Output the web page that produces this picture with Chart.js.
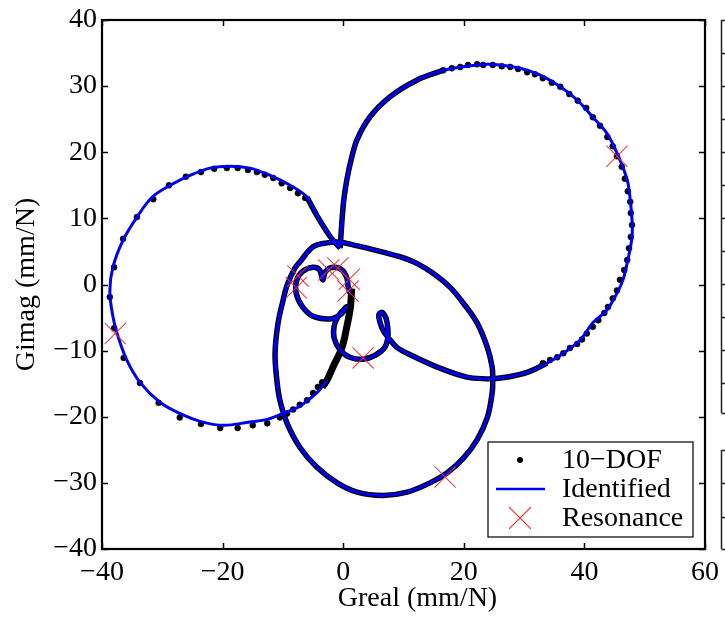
<!DOCTYPE html>
<html>
<head>
<meta charset="utf-8">
<script src="https://cdn.jsdelivr.net/npm/chart.js@4.4.1/dist/chart.umd.min.js"></script>
<style>
  html, body { margin: 0; padding: 0; background: #fff; }
</style>
</head>
<body>
<canvas id="nyq" width="725" height="619"></canvas>
<script>
// axis ticks
const xTicks = [-40, -20, 0, 20, 40, 60];
const yTicks = [-40, -30, -20, -10, 0, 10, 20, 30, 40];

// identified model
const leftLoopX = [-2.7, -4.4, -7.2, -10.0, -12.6, -15.5, -19.9, -23.7, -27.1, -30.4, -33.7, -35.9, -37.5, -38.3, -38.7, -38.2, -36.5, -34.2, -31.7, -28.7, -25.4, -22.1, -18.8, -15.5, -12.1, -8.8, -6.0, -4.4, -2.2, -0.5];
const leftLoopY = [-14.5, -16.4, -18.4, -19.5, -20.4, -20.8, -21.3, -20.7, -19.5, -17.8, -14.8, -11.4, -7.4, -4.3, -0.9, 2.6, 6.7, 10.2, 13.2, 15.0, 16.5, 17.6, 17.9, 17.6, 16.5, 15.0, 13.2, 10.5, 7.3, 5.5];

const rightLoopX = [-0.5, -0.4, -0.2, 0.1, 0.6, 1.3, 2.3, 4.4, 7.8, 12.2, 16.6, 20.5, 23.9, 26.0, 29.3, 32.6, 36.0, 38.8, 41.4, 43.7, 45.4, 47.1, 47.6, 47.9, 47.9, 47.2, 46.4, 45.4, 43.7, 41.4, 39.3, 36.5, 33.8, 30.5, 27.2, 24.3];
const rightLoopY = [5.5, 7.0, 9.7, 12.8, 15.8, 18.8, 21.9, 25.3, 28.4, 30.9, 32.4, 33.0, 33.3, 33.2, 32.7, 31.7, 29.9, 27.9, 25.3, 22.9, 19.9, 15.8, 12.8, 9.7, 7.2, 3.7, 0.7, -1.3, -3.9, -5.8, -8.4, -10.4, -11.9, -13.3, -14.0, -14.3];

const hookX = [24.3, 20.5, 15.6, 10.6, 8.9, 7.8, 6.6, 6.1, 5.9, 6.4, 7.1, 7.4, 7.4, 6.9, 5.3, 3.3, 1.1, -0.5, -1.5, -1.5, -0.9, 0.0, 0.5, 0.1, -0.5, -2.2, -5.0, -6.8, -7.8, -7.7, -6.7, -5.0, -3.9, -3.4, -2.9, -1.7, -0.2, 0.6, 0.8, 1.1];
const hookY = [-14.3, -14.0, -12.5, -10.4, -9.5, -8.4, -6.9, -5.7, -4.6, -4.2, -5.1, -6.6, -8.0, -9.5, -10.7, -11.3, -11.0, -9.9, -8.1, -6.3, -4.9, -3.9, -3.4, -4.0, -4.6, -5.2, -4.8, -3.3, -1.3, 0.7, 2.0, 2.6, 2.2, 0.7, 2.0, 2.6, 2.2, 1.0, -0.2, -1.3];

const bottomLoopX = [-7.2, -5.0, -2.7, -0.5, 1.6, 4.0, 6.6, 9.4, 12.2, 14.9, 17.7, 19.9, 22.2, 23.9, 24.7, 24.8, 24.7, 23.9, 22.2, 19.9, 17.2, 14.4, 10.6, 6.6, 2.3, -1.0, -4.4, -7.2, -9.3, -10.5, -11.0, -11.3, -10.8, -10.0, -9.3, -8.0, -7.2];
const bottomLoopY = [3.4, 5.7, 6.3, 6.4, 6.0, 5.5, 4.9, 4.2, 3.2, 1.7, -0.4, -2.8, -5.8, -9.5, -12.5, -14.5, -16.4, -20.1, -23.5, -26.3, -28.5, -30.0, -31.4, -31.9, -31.4, -30.0, -27.6, -24.6, -21.0, -17.5, -14.5, -10.4, -5.8, -2.5, -0.1, 2.5, 3.4];

// where the 10-DOF samples are so dense they read as a solid black stroke
const tailX = [1.4, 1.2, 0.6, -0.2, -1.7, -2.7, -3.5];
const tailY = [-0.6, -3.4, -6.4, -9.5, -12.5, -14.5, -15.5];

// 10-DOF samples that can be told apart
const dofX = [-36.4, -38.0, -38.7, -38.0, -36.5, -34.2, -31.5, -28.9, -26.1, -23.6, -21.4, -19.3, -17.5, -15.8, -14.3, -13.0, -11.6, -10.2, -8.8, -7.5, -6.3,
  -33.7, -30.6, -27.1, -23.6, -20.4, -17.5, -15.0, -12.6, -10.5, -9.3, -8.3, -7.2, -6.0, -5.0, -4.2, -3.5,
  16.6, 18.0, 19.4, 20.7, 22.2, 23.2, 24.8, 26.3, 27.7, 29.0, 30.5, 31.8, 33.1, 34.6, 36.0, 37.5, 38.9, 40.3, 41.4, 42.6, 43.8, 44.7, 45.4, 46.2, 46.7, 47.2,
  47.6, 47.7, 47.9, 47.7, 47.4, 47.1, 46.6, 45.9, 45.4, 44.7, 43.9, 43.3, 42.3, 41.4, 40.4, 39.6, 38.8, 37.6, 36.5, 35.5, 34.3, 33.1];
const dofY = [-11.1, -6.6, -1.9, 2.6, 6.9, 10.2, 12.9, 15.0, 16.3, 17.0, 17.5, 17.6, 17.6, 17.3, 17.0, 16.6, 16.1, 15.3, 14.6, 13.8, 13.1,
  -14.9, -17.9, -20.1, -21.1, -21.7, -21.7, -21.3, -21.0, -20.1, -19.5, -18.9, -18.2, -17.5, -16.4, -15.5, -14.8,
  32.4, 32.7, 32.9, 33.2, 33.3, 33.2, 33.2, 33.0, 32.9, 32.6, 32.1, 31.8, 31.2, 30.5, 29.9, 28.8, 27.8, 26.7, 25.3, 24.0, 22.3, 20.9, 19.4, 17.8, 16.0, 14.1,
  12.5, 10.8, 9.0, 7.2, 5.5, 3.7, 2.2, 0.7, -0.9, -2.1, -3.4, -4.3, -5.4, -6.4, -7.4, -8.3, -9.0, -9.6, -10.4, -11.0, -11.4, -11.9];

// resonance markers
const resX = [-37.8, 45.4, 16.9, 3.3, -7.5, -7.8, -2.4, -0.9, 1.0, 0.8];
const resY = [-7.4, 19.4, -29.1, -11.1, 1.3, -0.5, 2.2, 2.5, 0.8, -1.0];

// edge of the neighbouring panel that is cut off at the right border (pixel rows)
const sideRowsTop = [20, 53, 86, 119, 152, 185, 218, 251, 284, 317, 350, 383, 413];
const sideRowsBottom = [450, 483, 517, 549];

const pts = (xs, ys) => xs.map((x, i) => ({ x: x, y: ys[i] }));

const BLUE = '#0000f0';
const RED = 'rgba(232, 48, 48, 0.9)';
const SERIF = "'Liberation Serif', 'Times New Roman', serif";

function blueLine(data) {
  return { data: data, showLine: true, borderColor: BLUE, borderWidth: 3, pointRadius: 0, tension: 0.35, order: 1 };
}
function denseLine(data) {
  return { data: data, showLine: true, borderColor: '#000', borderWidth: 5.5, pointRadius: 0, tension: 0.35, order: 3 };
}

const datasets = [
  { label: 'Resonance', data: pts(resX, resY), pointStyle: 'crossRot', pointRadius: 15, borderColor: RED, borderWidth: 1.1, showLine: false, order: 0 },
  blueLine(pts(leftLoopX, leftLoopY)),
  blueLine(pts(rightLoopX, rightLoopY)),
  blueLine(pts(hookX, hookY)),
  blueLine(pts(bottomLoopX, bottomLoopY)),
  { label: '10-DOF', data: pts(dofX, dofY), pointRadius: 3, backgroundColor: '#000', borderColor: '#000', borderWidth: 0.5, showLine: false, order: 2 },
  denseLine(pts(leftLoopX, leftLoopY).slice(-4)),
  denseLine(pts(rightLoopX, rightLoopY).slice(0, 11)),
  denseLine(pts(rightLoopX, rightLoopY).slice(32)),
  denseLine(pts(hookX, hookY)),
  denseLine(pts(bottomLoopX, bottomLoopY)),
  { data: pts(tailX, tailY), showLine: true, borderColor: '#000', borderWidth: 7, pointRadius: 0, tension: 0.35, order: 3 }
];

// box, inward ticks on all four sides, legend and the clipped neighbour panel
const frame = {
  id: 'frame',
  afterDraw(chart) {
    const { ctx, chartArea: a, scales, width } = chart;
    const x = scales.x, y = scales.y;
    ctx.save();
    ctx.strokeStyle = '#000';
    ctx.lineWidth = 1.5;
    x.ticks.forEach(t => {
      const p = Math.round(x.getPixelForValue(t.value)) + 0.5;
      ctx.beginPath();
      ctx.moveTo(p, a.bottom); ctx.lineTo(p, a.bottom - 6);
      ctx.moveTo(p, a.top); ctx.lineTo(p, a.top + 6);
      ctx.stroke();
    });
    y.ticks.forEach(t => {
      const p = Math.round(y.getPixelForValue(t.value)) + 0.5;
      ctx.beginPath();
      ctx.moveTo(a.left, p); ctx.lineTo(a.left + 6, p);
      ctx.moveTo(a.right, p); ctx.lineTo(a.right - 6, p);
      ctx.stroke();
    });
    ctx.lineWidth = 2.2;
    ctx.strokeRect(a.left, a.top, a.right - a.left, a.bottom - a.top);

    // neighbour panel fragments
    ctx.strokeStyle = '#222';
    ctx.lineWidth = 1.5;
    const sx = 721.5;
    [sideRowsTop, sideRowsBottom].forEach(rows => {
      ctx.beginPath();
      ctx.moveTo(sx, rows[0]); ctx.lineTo(sx, rows[rows.length - 1]);
      rows.forEach(r => { ctx.moveTo(sx, r + 0.5); ctx.lineTo(width, r + 0.5); });
      ctx.stroke();
    });

    // legend
    const bw = 205, bh = 95;
    const bx = a.right - 12 - bw, by = a.bottom - 12 - bh;
    ctx.fillStyle = '#fff';
    ctx.fillRect(bx, by, bw, bh);
    ctx.strokeStyle = '#000';
    ctx.lineWidth = 1.2;
    ctx.strokeRect(bx, by, bw, bh);
    const rows = [by + 18, by + 47, by + 76];
    const mx = bx + 32;
    ctx.fillStyle = '#000';
    ctx.beginPath(); ctx.arc(mx, rows[0], 3, 0, Math.PI * 2); ctx.fill();
    ctx.strokeStyle = BLUE; ctx.lineWidth = 2.6;
    ctx.beginPath(); ctx.moveTo(bx + 8, rows[1]); ctx.lineTo(bx + 57, rows[1]); ctx.stroke();
    ctx.strokeStyle = RED; ctx.lineWidth = 1.1;
    ctx.beginPath();
    ctx.moveTo(mx - 11, rows[2] - 11); ctx.lineTo(mx + 11, rows[2] + 11);
    ctx.moveTo(mx + 11, rows[2] - 11); ctx.lineTo(mx - 11, rows[2] + 11);
    ctx.stroke();
    ctx.fillStyle = '#000';
    ctx.font = '28px ' + SERIF;
    ctx.textBaseline = 'middle';
    ctx.textAlign = 'left';
    ['10\u2212DOF', 'Identified', 'Resonance'].forEach((s, i) => ctx.fillText(s, bx + 74, rows[i] + 1));
    ctx.restore();
  }
};

const tickFont = { family: SERIF, size: 28 };
const minus = v => String(v).replace('-', '\u2212');

new Chart(document.getElementById('nyq'), {
  type: 'scatter',
  data: { datasets: datasets },
  options: {
    responsive: false,
    animation: false,
    devicePixelRatio: 1,
    layout: { padding: { left: 0, right: 20, top: 20, bottom: 0 } },
    plugins: { legend: { display: false }, tooltip: { enabled: false } },
    scales: {
      x: {
        type: 'linear', min: -40, max: 60,
        afterBuildTicks: s => { s.ticks = xTicks.map(v => ({ value: v })); },
        afterFit: s => { s.height = 70; s.paddingLeft = 0; s.paddingRight = 0; },
        grid: { display: false, drawTicks: false },
        border: { display: false },
        ticks: { font: tickFont, color: '#000', padding: 7, maxRotation: 0, callback: minus },
        title: { display: true, text: '\u2003Greal (mm/N)', font: { family: SERIF, size: 28 }, color: '#000', padding: { top: 0, bottom: 4 } }
      },
      y: {
        type: 'linear', min: -40, max: 40,
        afterBuildTicks: s => { s.ticks = yTicks.map(v => ({ value: v })); },
        afterFit: s => { s.width = 102; s.paddingTop = 0; s.paddingBottom = 0; },
        grid: { display: false, drawTicks: false },
        border: { display: false },
        ticks: { font: tickFont, color: '#000', padding: 5, callback: minus },
        title: { display: true, text: 'Gimag (mm/N)', font: { family: SERIF, size: 28 }, color: '#000', padding: { top: 10, bottom: 0 } }
      }
    }
  },
  plugins: [frame]
});
</script>
</body>
</html>
